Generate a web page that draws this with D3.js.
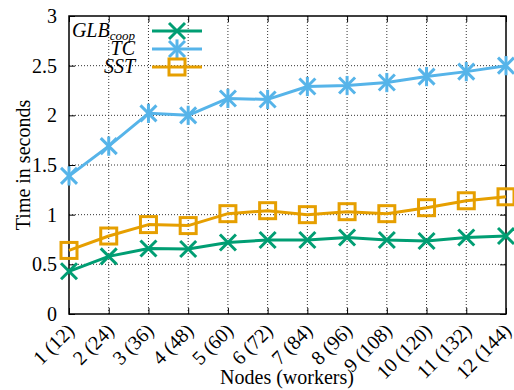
<!DOCTYPE html>
<html>
<head>
<meta charset="utf-8">
<script src="https://cdn.jsdelivr.net/npm/d3@7"></script>
<style>
  html, body { margin: 0; padding: 0; background: #fff; }
</style>
</head>
<body>
<svg id="chart" width="514" height="390"></svg>
<script>
// Node counts with worker counts in parentheses
const categories = ["1 (12)", "2 (24)", "3 (36)", "4 (48)", "5 (60)", "6 (72)",
                    "7 (84)", "8 (96)", "9 (108)", "10 (120)", "11 (132)", "12 (144)"];

// Runtime in seconds per configuration
const glbCoop = [0.43, 0.58, 0.66, 0.655, 0.72, 0.745, 0.745, 0.77, 0.745, 0.735, 0.77, 0.785];
const tc      = [1.39, 1.69, 2.02, 2.00, 2.17, 2.16, 2.29, 2.30, 2.33, 2.39, 2.44, 2.50];
const sst     = [0.64, 0.785, 0.90, 0.89, 1.01, 1.04, 1.00, 1.03, 1.01, 1.07, 1.14, 1.18];

const yTicks = [0, 0.5, 1, 1.5, 2, 2.5, 3];
const yTickLabels = ["0", "0.5", "1", "1.5", "2", "2.5", "3"];

const series = [
  { name: "GLB", sub: "coop", values: glbCoop, color: "#009e73", marker: "cross" },
  { name: "TC",  sub: null,   values: tc,      color: "#56b4e9", marker: "star" },
  { name: "SST", sub: null,   values: sst,     color: "#e69f00", marker: "square" }
];

const FONT = "'Liberation Serif', 'DejaVu Serif', serif";
const FS = 20;

const svg = d3.select("#chart");
const m = { left: 69, right: 8, top: 16, bottom: 76 };
const W = 514, H = 390;
const x0 = m.left, x1 = W - m.right, y0 = H - m.bottom, y1 = m.top;

const x = d3.scalePoint().domain(categories).range([x0, x1]);
const y = d3.scaleLinear().domain([0, 3]).range([y0, y1]);

// Dotted grid
const grid = svg.append("g");
grid.selectAll(".gy").data(yTicks.slice(1, -1)).enter().append("line")
  .attr("x1", x0).attr("x2", x1)
  .attr("y1", d => y(d)).attr("y2", d => y(d))
  .attr("stroke", "#333").attr("stroke-width", 1).attr("stroke-dasharray", "1,2");
grid.selectAll(".gx").data(categories.slice(1, -1)).enter().append("line")
  .attr("x1", d => x(d)).attr("x2", d => x(d))
  .attr("y1", y0).attr("y2", y1)
  .attr("stroke", "#333").attr("stroke-width", 1).attr("stroke-dasharray", "1,2");

// Axes with inward ticks, mirrored on the opposite sides
const tickLen = 6;
const yAxisL = d3.axisLeft(y).tickValues(yTicks).tickFormat((d, i) => yTickLabels[i])
  .tickSizeInner(-tickLen).tickSizeOuter(0).tickPadding(12);
const gyl = svg.append("g").attr("transform", `translate(${x0},0)`).call(yAxisL);
gyl.select(".domain").remove();
gyl.selectAll("text").style("font-family", FONT).style("font-size", FS + "px").attr("fill", "#000");

const yAxisR = d3.axisRight(y).tickValues(yTicks).tickFormat("").tickSizeInner(-tickLen).tickSizeOuter(0);
const gyr = svg.append("g").attr("transform", `translate(${x1},0)`).call(yAxisR);
gyr.select(".domain").remove();

const xAxisB = d3.axisBottom(x).tickSizeInner(-tickLen).tickSizeOuter(0);
const gxb = svg.append("g").attr("transform", `translate(0,${y0})`).call(xAxisB);
gxb.select(".domain").remove();
gxb.selectAll("text")
  .style("font-family", FONT).style("font-size", FS + "px").attr("fill", "#000")
  .attr("text-anchor", "end")
  .attr("y", 0)
  .attr("dy", "0.35em")
  .attr("transform", "translate(1,13) rotate(-45)");

const xAxisT = d3.axisTop(x).tickFormat("").tickSizeInner(-tickLen).tickSizeOuter(0);
const gxt = svg.append("g").attr("transform", `translate(0,${y1})`).call(xAxisT);
gxt.select(".domain").remove();

svg.selectAll(".tick line").attr("stroke", "#000").attr("stroke-width", 1);

// Plot border
svg.append("rect").attr("x", x0).attr("y", y1).attr("width", x1 - x0).attr("height", y0 - y1)
  .attr("fill", "none").attr("stroke", "#000").attr("stroke-width", 1.5);

// Marker shapes
function drawMarker(g, cx, cy, type, color) {
  const r = 8;
  if (type === "cross" || type === "star") {
    g.append("line").attr("x1", cx - r).attr("y1", cy - r).attr("x2", cx + r).attr("y2", cy + r);
    g.append("line").attr("x1", cx - r).attr("y1", cy + r).attr("x2", cx + r).attr("y2", cy - r);
  }
  if (type === "star") {
    g.append("line").attr("x1", cx).attr("y1", cy - r * 1.2).attr("x2", cx).attr("y2", cy + r * 1.2);
  }
  if (type === "square") {
    g.append("rect").attr("x", cx - r).attr("y", cy - r).attr("width", 2 * r).attr("height", 2 * r)
      .attr("fill", "none");
  }
  g.attr("stroke", color).attr("stroke-width", 3).attr("fill", "none");
}

const line = d3.line().x((d, i) => x(categories[i])).y(d => y(d));

series.forEach(s => {
  const g = svg.append("g");
  g.append("path").datum(s.values).attr("d", line)
    .attr("fill", "none").attr("stroke", s.color).attr("stroke-width", 3)
    .attr("stroke-linejoin", "round");
  s.values.forEach((v, i) => {
    drawMarker(g.append("g"), x(categories[i]), y(v), s.marker, s.color);
  });
});

// Legend
const lg = svg.append("g");
series.forEach((s, i) => {
  const ly = 31 + i * 18;
  const t = lg.append("text").attr("x", 135).attr("y", ly + 6)
    .attr("text-anchor", "end").attr("fill", "#000")
    .style("font-family", FONT).style("font-size", FS + "px").style("font-style", "italic");
  t.append("tspan").text(s.name);
  if (s.sub) t.append("tspan").style("font-size", "13px").attr("dy", 3).text(s.sub);
  lg.append("line").attr("x1", 152).attr("x2", 202).attr("y1", ly).attr("y2", ly)
    .attr("stroke", s.color).attr("stroke-width", 3);
  drawMarker(lg.append("g"), 177, ly, s.marker, s.color);
});

// Axis titles
svg.append("text").attr("x", 287).attr("y", 384).attr("text-anchor", "middle")
  .style("font-family", FONT).style("font-size", FS + "px").attr("fill", "#000").text("Nodes (workers)");
svg.append("text").attr("transform", `translate(30,${(y0 + y1) / 2}) rotate(-90)`)
  .attr("text-anchor", "middle")
  .style("font-family", FONT).style("font-size", FS + "px").attr("fill", "#000").text("Time in seconds");
</script>
</body>
</html>
